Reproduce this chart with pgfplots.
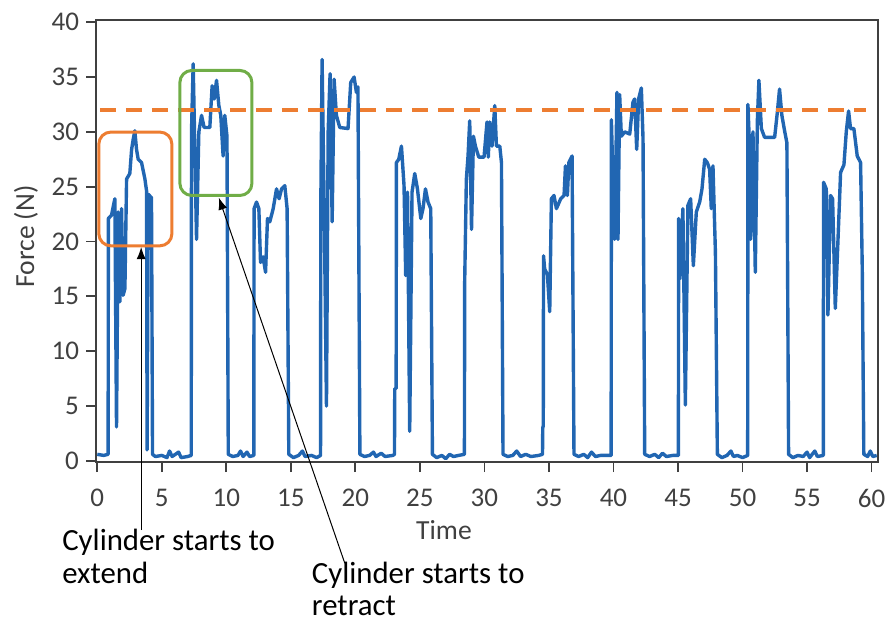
\documentclass[border=0pt]{standalone}
\usepackage{fontspec}
\setmainfont{Carlito}
\usepackage{pgfplots}
\pgfplotsset{compat=1.18}
\usetikzlibrary{arrows.meta}
\definecolor{forceblue}{RGB}{33,102,178}
\definecolor{limitorange}{RGB}{237,125,49}
\definecolor{boxgreen}{RGB}{112,173,71}
\definecolor{axgray}{RGB}{64,64,64}

\begin{document}
\begin{tikzpicture}
\path[use as bounding box] (0,0) rectangle (444pt,316pt);
\begin{axis}[
    at={(48pt,85pt)}, anchor=south west,
    scale only axis, width=391pt, height=221pt,
    xmin=-0.1, xmax=60.5, ymin=-0.1, ymax=40.2,
    xtick={0,5,...,60}, ytick={0,5,...,40},
    tick align=outside, tick pos=left, major tick length=5pt,
    axis line style={draw=axgray, line width=1pt},
    every tick/.style={draw=axgray, line width=0.9pt},
    tick label style={font=\fontsize{13.5}{15}\selectfont, text=axgray},
    xticklabel style={yshift=-5pt},
    /pgf/number format/assume math mode=true,
    xlabel={Time}, ylabel={Force (N)},
    label style={font=\fontsize{13.8}{16}\selectfont, text=axgray},
    xlabel style={at={(axis description cs:0.445,-0.154)}, anchor=center},
    ylabel style={at={(axis description cs:-0.0895,0.51)}, anchor=center},
    clip=false,
]
\addplot[forceblue, line width=1.7pt, line join=round] coordinates {
(0,0.6)(0.5,0.5)(0.84,0.6)
(0.86,22.1)(1.1,22.4)(1.36,23.9)(1.49,3.1)(1.62,22.7)(1.75,14.5)(1.88,23.0)(2.0,15.1)(2.14,15.7)(2.27,25.7)(2.52,26.2)(2.66,28.4)(2.78,29.3)(2.91,30.1)(3.04,28.4)(3.17,27.5)(3.43,27.2)(3.69,25.7)(3.82,24.6)(3.86,1.0)(3.95,24.3)(4.2,24.0)(4.28,0.6)
(4.5,0.4)(5.0,0.5)(5.4,0.3)(5.6,0.9)(5.8,0.4)(6.3,0.8)(6.5,0.3)(7.0,0.4)(7.28,0.5)
(7.30,30.0)(7.43,36.2)(7.56,28.4)(7.69,20.2)(7.87,30.0)(8.08,31.5)(8.28,30.4)(8.72,30.4)(8.9,34.2)(9.06,33.0)(9.24,34.7)(9.42,32.4)(9.57,31.5)(9.75,27.8)(9.88,31.5)(10.05,29.6)(10.15,0.6)
(10.5,0.4)(10.9,0.5)(11.1,0.9)(11.3,0.4)(11.6,0.8)(11.8,0.4)(12.13,0.5)
(12.15,23.0)(12.34,23.6)(12.52,23.0)(12.65,18.1)(12.85,18.6)(13.04,17.2)(13.19,22.1)(13.37,21.8)(13.63,23.0)(13.89,24.8)(14.09,23.9)(14.28,24.8)(14.53,25.1)(14.71,23.0)(14.84,0.6)
(15.2,0.3)(15.6,0.5)(15.9,0.9)(16.1,0.4)(16.6,0.5)(17.0,0.3)(17.3,0.5)
(17.32,23.3)(17.42,36.6)(17.58,23.3)(17.76,5.0)(17.89,30.0)(18.04,35.3)(18.2,21.8)(18.35,34.8)(18.53,31.5)(18.79,30.4)(19.43,30.3)(19.64,34.5)(19.9,35.0)(20.08,33.6)(20.2,34.1)(20.35,0.6)
(20.7,0.4)(21.1,0.5)(21.4,0.8)(21.6,0.4)(22.0,0.7)(22.3,0.4)(22.9,0.5)(23.03,0.6)
(23.05,6.6)(23.16,6.6)(23.18,27.2)(23.36,27.5)(23.57,28.7)(23.77,25.1)(23.9,16.9)(24.04,24.5)(24.21,2.7)(24.39,24.5)(24.6,26.2)(24.81,24.8)(25.07,22.1)(25.24,23.0)(25.43,24.8)(25.63,23.6)(25.84,23.0)(25.97,0.6)
(26.3,0.3)(26.7,0.5)(27.0,0.2)(27.3,0.6)(27.6,0.4)(28.0,0.5)(28.45,0.6)
(28.47,16.3)(28.6,25.7)(28.73,27.8)(28.86,31.0)(29.0,21.1)(29.15,29.6)(29.3,28.7)(29.56,27.7)(29.97,27.7)(30.2,30.9)(30.3,27.7)(30.41,30.9)(30.59,28.7)(30.8,32.4)(30.93,28.7)(31.19,28.7)(31.32,27.2)(31.44,0.6)
(31.8,0.4)(32.2,0.5)(32.5,0.9)(32.8,0.4)(33.2,0.6)(33.6,0.4)(34.2,0.5)(34.5,0.6)
(34.52,3.0)(34.56,3.2)(34.58,18.7)(34.67,17.5)(34.88,17.0)(35.06,13.6)(35.19,23.9)(35.39,24.2)(35.58,23.0)(35.91,23.9)(36.17,24.2)(36.28,26.9)(36.43,24.2)(36.54,27.2)(36.79,27.8)(36.94,0.6)
(37.3,0.4)(37.7,0.6)(38.0,0.3)(38.3,0.8)(38.6,0.4)(39.0,0.5)(39.82,0.5)
(39.84,31.1)(39.96,25.5)(40.09,20.2)(40.27,33.6)(40.35,20.2)(40.48,33.4)(40.61,29.6)(40.87,30.0)(41.26,29.8)(41.51,32.7)(41.64,33.0)(41.8,28.4)(41.95,33.0)(42.16,34.0)(42.29,29.4)(42.42,0.6)
(42.8,0.4)(43.2,0.6)(43.5,0.3)(43.8,0.7)(44.1,0.4)(44.6,0.5)(45.03,0.5)
(45.05,22.1)(45.15,16.6)(45.38,23.0)(45.57,5.1)(45.77,23.3)(45.98,23.9)(46.19,17.8)(46.42,22.7)(46.68,23.6)(46.86,24.8)(47.07,27.5)(47.27,27.2)(47.45,26.6)(47.58,23.0)(47.71,26.9)(47.9,19.0)(48.05,0.6)
(48.4,0.3)(48.8,0.5)(49.1,0.9)(49.3,0.4)(49.6,0.5)(50.0,0.3)(50.4,0.5)
(50.42,32.5)(50.55,28.4)(50.63,20.2)(50.81,30.0)(50.99,17.2)(51.15,31.0)(51.27,34.7)(51.46,30.3)(51.71,29.5)(52.49,29.5)(52.7,31.8)(52.87,33.9)(53.05,31.5)(53.26,30.1)(53.44,29.0)(53.57,0.6)
(53.9,0.3)(54.3,0.5)(54.7,0.4)(55.0,0.8)(55.2,0.3)(55.6,0.9)(55.8,0.4)(56.26,0.5)
(56.28,25.4)(56.49,24.8)(56.62,13.3)(56.82,24.2)(56.98,23.9)(57.19,13.9)(57.39,19.9)(57.6,26.3)(57.86,27.0)(58.04,30.0)(58.22,31.9)(58.37,30.3)(58.63,30.3)(58.89,27.8)(59.15,27.2)(59.28,17.5)(59.4,0.6)
(59.7,0.4)(59.9,0.9)(60.1,0.4)(60.4,0.5)
};
\addplot[limitorange, line width=1.8pt, dash pattern=on 8pt off 5pt] coordinates {(0.2,32)(59.6,32)};

% annotation boxes
\draw[limitorange, line width=1.5pt, rounded corners=6pt] (axis cs:0.12,19.61) rectangle (axis cs:5.78,29.98);
\draw[boxgreen, line width=1.5pt, rounded corners=6pt] (axis cs:6.4,24.2) rectangle (axis cs:11.98,35.6);

% arrows and notes
\draw[-{Latex[length=6pt,width=4.5pt]}, line width=0.5pt] (axis cs:3.4,-6.3) -- (axis cs:3.4,19.5);
\draw[-{Latex[length=6pt,width=4.5pt]}, line width=0.5pt] (axis cs:19.18,-9.33) -- (axis cs:9.42,24.0);
\node[anchor=base west, inner sep=0, font=\fontsize{15.4}{18}\selectfont] at (axis cs:-2.74,-8.14) {Cylinder starts to};
\node[anchor=base west, inner sep=0, font=\fontsize{15.4}{18}\selectfont] at (axis cs:-2.74,-11.15) {extend};
\node[anchor=base west, inner sep=0, font=\fontsize{15.4}{18}\selectfont] at (axis cs:16.6,-11.15) {Cylinder starts to};
\node[anchor=base west, inner sep=0, font=\fontsize{15.4}{18}\selectfont] at (axis cs:16.6,-14.06) {retract};
\end{axis}
\end{tikzpicture}
\end{document}
